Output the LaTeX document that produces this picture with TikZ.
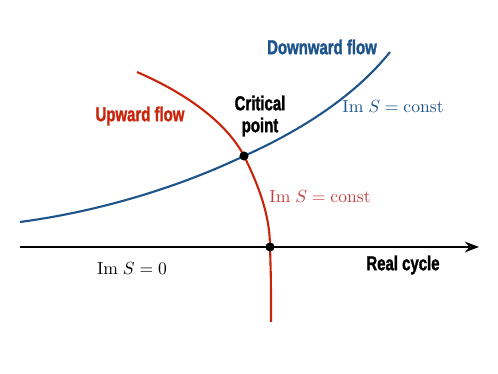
\documentclass[tikz,border=0pt]{standalone}
\usepackage{amsmath}
\usepackage{fontspec}
\usepackage{tikz}
\usetikzlibrary{positioning,arrows.meta}
\newfontfamily\headfont{Liberation Sans Bold}[FakeStretch=0.74, FakeBold=1.4]
\definecolor{flowblue}{RGB}{30, 84, 140}
\definecolor{flowred}{RGB}{200, 38, 12}
\definecolor{softred}{RGB}{196, 64, 64}

\begin{document}
\begin{tikzpicture}[x=0.02cm, y=-0.02cm,
  head/.style={font=\headfont\fontsize{11.5}{12.5}\selectfont, align=center},
  crit/.style={circle, fill=black, inner sep=0pt, minimum size=5pt}]
  \useasboundingbox (0, 0) rectangle (498, 374);
  \coordinate (start) at (20, 247);
  \coordinate (end) at (479, 247);
  \coordinate (bluestart) at (20, 222);
  \coordinate (blueend) at (390, 52);
  \coordinate (redstart) at (137, 72);
  \coordinate (redend) at (271, 322);
  \node[crit] (cp) at (244, 156) {};
  \node[crit] (rc) at (270, 247) {};
  \draw[-{Stealth[length=8pt, width=6pt]}, line width=1.4pt] (start) to (end);
  \draw[flowblue, line width=1.2pt] (bluestart) .. controls (110, 210) and (190, 182) .. (cp.center)
    .. controls (300, 131) and (355, 96) .. (blueend);
  \draw[flowred, line width=1.2pt] (redstart) .. controls (190, 95) and (228, 125) .. (cp.center)
    .. controls (262, 192) and (270, 220) .. (rc.center)
    .. controls (271, 280) .. (redend);
  \node[crit] at (cp) {};
  \node[crit] at (rc) {};
  \node[head, text=flowblue] (down) at (322, 47) {Downward flow};
  \node[head, text=flowred] (up) at (140, 116) {Upward flow};
  \node[head] (critlabel) at (260, 116) {Critical\\point};
  \node[head] (real) at (403, 265) {Real cycle};
  \node[text=flowblue] (blueim) at (393, 107) {$\mathrm{Im}\; S = \mathrm{const}$};
  \node[text=softred] (redim) at (320, 197) {$\mathrm{Im}\; S = \mathrm{const}$};
  \node (zeroim) at (132, 269) {$\mathrm{Im}\; S = 0$};
\end{tikzpicture}
\end{document}
